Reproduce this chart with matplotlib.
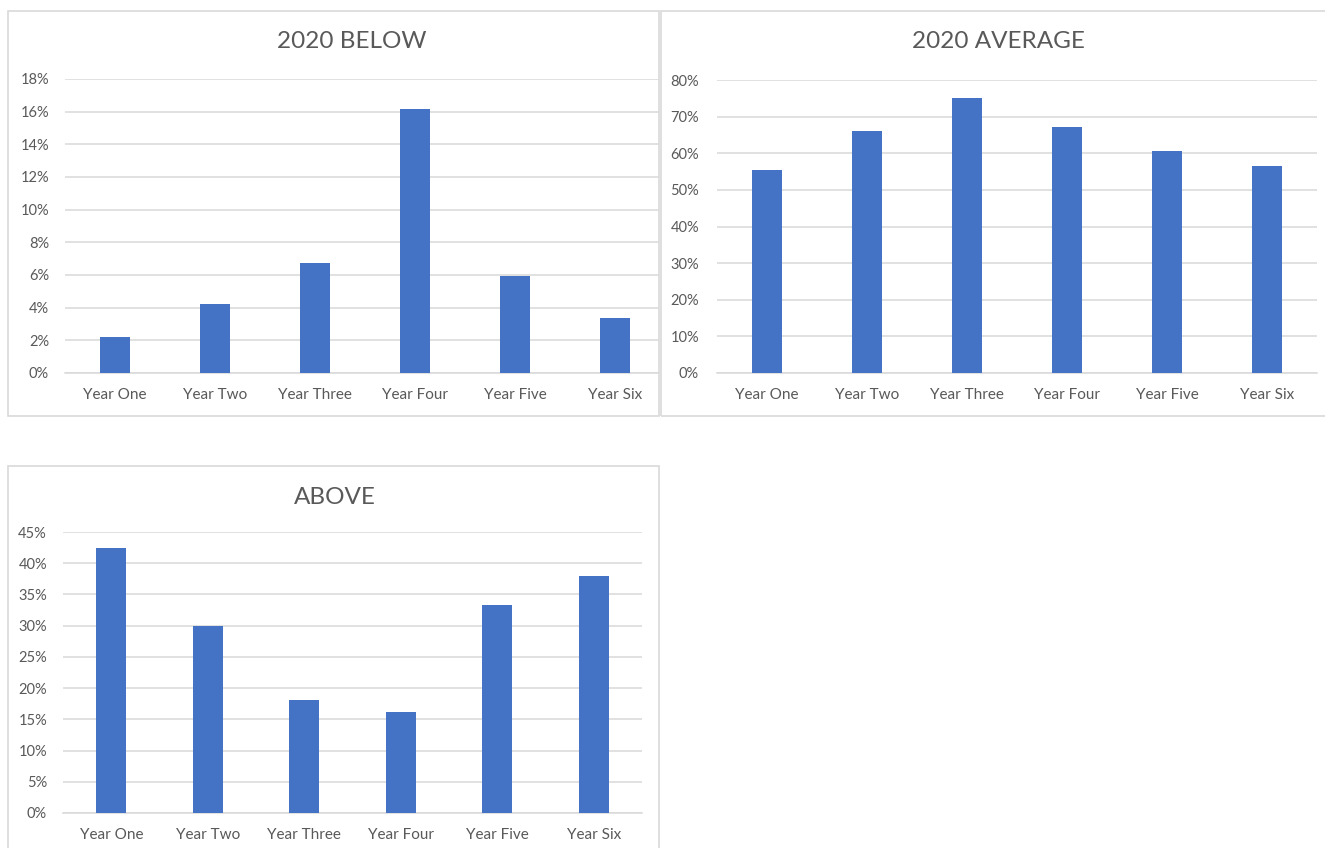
import matplotlib
matplotlib.use("Agg")
import matplotlib.pyplot as plt
from matplotlib.patches import Rectangle
from matplotlib.ticker import PercentFormatter

plt.rcParams['font.family'] = ['Lato', 'DejaVu Sans']

years = ["Year One", "Year Two", "Year Three", "Year Four", "Year Five", "Year Six"]
below_2020 = [2.2, 4.2, 6.75, 16.15, 5.95, 3.35]
average_2020 = [55.3, 66.1, 75.0, 67.3, 60.7, 56.6]
above = [42.4, 30.0, 18.1, 16.2, 33.3, 37.9]

BAR = "#4472C4"
GRID = "#D9D9D9"
TEXT = "#595959"
W, H = 1325, 848

fig = plt.figure(figsize=(W / 100, H / 100), dpi=100)
fig.patch.set_facecolor("white")


def px_axes(x0, y0, x1, y1):
    """Axes from pixel box (x0, y0 top-left; x1, y1 bottom-right)."""
    return fig.add_axes([x0 / W, 1 - y1 / H, (x1 - x0) / W, (y1 - y0) / H])


def frame(x0, y0, x1, y1):
    fig.patches.append(Rectangle((x0 / W, 1 - y1 / H), (x1 - x0) / W, (y1 - y0) / H,
                                 transform=fig.transFigure, fill=False,
                                 edgecolor=GRID, linewidth=1.2, zorder=0))


def panel(box, values, ymax, step, title, title_xy, cat_px, ypad):
    ax = px_axes(*box)
    x = range(len(years))
    width_px = box[2] - box[0]
    ax.bar(x, values, width=30 / cat_px, color=BAR, zorder=3)
    ax.set_xlim(-0.5, -0.5 + width_px / cat_px)
    ax.set_ylim(0, ymax)
    ax.set_yticks([v for v in range(0, ymax + 1, step)])
    ax.yaxis.set_major_formatter(PercentFormatter(decimals=0))
    ax.set_xticks(list(x))
    ax.set_xticklabels(years)
    ax.grid(axis="y", color=GRID, linewidth=1.1, zorder=0)
    ax.set_axisbelow(True)
    for s in ("top", "right", "left"):
        ax.spines[s].set_visible(False)
    ax.spines["bottom"].set_color(GRID)
    ax.spines["bottom"].set_linewidth(1.1)
    ax.tick_params(axis="both", length=0, labelcolor=TEXT)
    ax.tick_params(axis="x", pad=10.5, labelsize=11)
    ax.tick_params(axis="y", pad=ypad, labelsize=10.5)
    ax.set_facecolor("none")
    fig.text(title_xy[0] / W, 1 - title_xy[1] / H, title, ha="center", va="center",
             fontsize=17.5, color=TEXT)
    return ax


frame(8, 11, 659, 416)
frame(661, 11, 1330, 416)
frame(8, 466, 659, 860)

panel((65, 79, 659, 373), below_2020, 18, 2, "2020 BELOW", (352, 42), 100, 11.5)
panel((717, 80, 1317, 373), average_2020, 80, 10, "2020 AVERAGE", (998, 42), 100, 13)
panel((63, 532, 642, 813), above, 45, 5, "ABOVE", (335, 497), 96.5, 11.5)

fig.savefig("out.png", dpi=100, facecolor="white")
